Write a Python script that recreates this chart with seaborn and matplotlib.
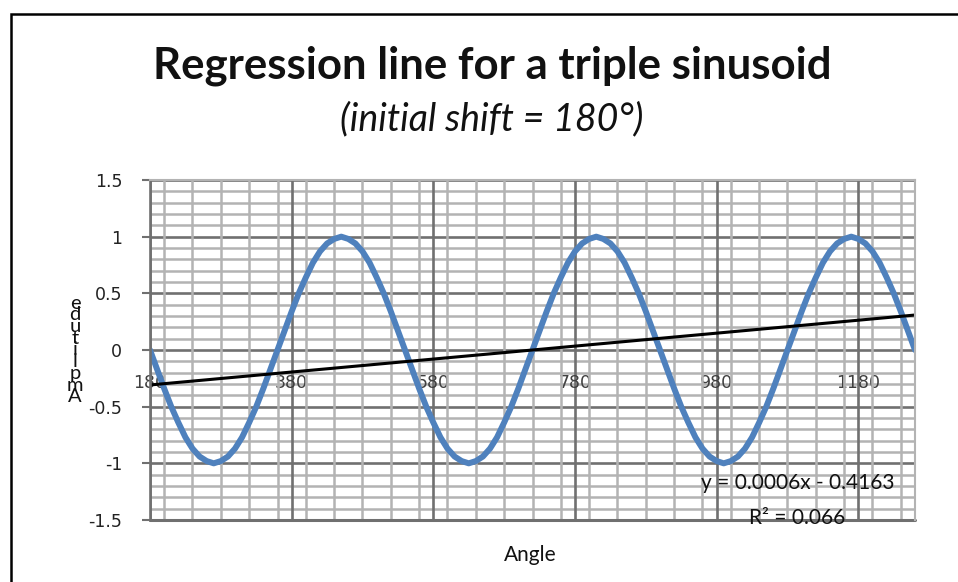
import numpy as np
import pandas as pd
import matplotlib
matplotlib.use('Agg')
import matplotlib.pyplot as plt
import seaborn as sns
from matplotlib.ticker import MultipleLocator
from matplotlib.patches import Rectangle

# angle in degrees, sampled every 10 deg
angles = list(range(180, 1261, 10))
# amplitude
amplitude = [
    0, -0.17, -0.34, -0.5, -0.64, -0.77, -0.87, -0.94, -0.98,
    -1, -0.98, -0.94, -0.87, -0.77, -0.64, -0.5, -0.34, -0.17,
    0, 0.17, 0.34, 0.5, 0.64, 0.77, 0.87, 0.94, 0.98,
    1, 0.98, 0.94, 0.87, 0.77, 0.64, 0.5, 0.34, 0.17,
    0, -0.17, -0.34, -0.5, -0.64, -0.77, -0.87, -0.94, -0.98,
    -1, -0.98, -0.94, -0.87, -0.77, -0.64, -0.5, -0.34, -0.17,
    0, 0.17, 0.34, 0.5, 0.64, 0.77, 0.87, 0.94, 0.98,
    1, 0.98, 0.94, 0.87, 0.77, 0.64, 0.5, 0.34, 0.17,
    0, -0.17, -0.34, -0.5, -0.64, -0.77, -0.87, -0.94, -0.98,
    -1, -0.98, -0.94, -0.87, -0.77, -0.64, -0.5, -0.34, -0.17,
    0, 0.17, 0.34, 0.5, 0.64, 0.77, 0.87, 0.94, 0.98,
    1, 0.98, 0.94, 0.87, 0.77, 0.64, 0.5, 0.34, 0.17,
    0,
]
x_ticks = [180, 380, 580, 780, 980, 1180]
y_ticks = [-1.5, -1, -0.5, 0, 0.5, 1, 1.5]
y_tick_labels = ['-1.5', '-1', '-0.5', '0', '0.5', '1', '1.5']
equation = 'y = 0.0006x - 0.4163'
r_squared = 'R² = 0.066'

df = pd.DataFrame({'Angle': angles, 'Amplitude': amplitude})

sns.set_theme(style='white')
plt.rcParams['font.family'] = ['Lato', 'DejaVu Sans']

fig = plt.figure(figsize=(9.58, 5.82), dpi=100)
ax = fig.add_axes([150 / 958, 62 / 582, 765 / 958, 340 / 582])

# grid like the excel chart
ax.set_xlim(180, 1260)
ax.set_ylim(-1.5, 1.5)
ax.xaxis.set_minor_locator(MultipleLocator(40))
ax.yaxis.set_minor_locator(MultipleLocator(0.1))
ax.set_xticks(x_ticks)
ax.set_yticks(y_ticks)
ax.set_yticklabels(y_tick_labels)
ax.grid(which='minor', color='#b3b3b3', lw=1.8)
ax.grid(which='major', color='#707070', lw=1.9)
ax.set_axisbelow(True)
ax.xaxis.set_zorder(0.6)

sns.lineplot(data=df, x='Angle', y='Amplitude', color='#4f81bd', lw=4.3, ax=ax)
sns.regplot(data=df, x='Angle', y='Amplitude', scatter=False, ci=None,
            color='black', line_kws={'lw': 2.2}, ax=ax)

ax.set_xlabel('')
ax.set_ylabel('')

for s in ['top', 'right']:
    ax.spines[s].set_color('#b3b3b3')
    ax.spines[s].set_linewidth(1.5)
ax.spines['left'].set_color('#707070')
ax.spines['left'].set_linewidth(1.9)
ax.spines['bottom'].set_position(('data', 0))
ax.spines['bottom'].set_color('none')
ax.axhline(-1.5, color='#707070', lw=2.2, clip_on=False)

ax.tick_params(axis='x', which='both', length=0, pad=17, labelsize=12.5,
               labelcolor='#404040')
ax.tick_params(axis='y', which='major', length=6, width=1.5, color='#707070',
               pad=14, labelsize=12.5, labelcolor='#222222', left=True)
ax.tick_params(axis='y', which='minor', length=0)
for lab in ax.get_xticklabels() + ax.get_yticklabels():
    lab.set_fontfamily('DejaVu Sans')

# trendline label
ax.text(1094, -1.177, equation, ha='center', va='center', fontsize=15,
        color='#111111')
ax.text(1094, -1.48, r_squared, ha='center', va='center', fontsize=15,
        color='#111111')

# titles
fig.text(492 / 958, 1 - 66 / 582, 'Regression line for a triple sinusoid',
         ha='center', va='center', fontsize=31.5, fontweight='bold', color='#111111')
fig.text(492 / 958, 1 - 119 / 582, '(initial shift = 180°)', ha='center',
         va='center', fontsize=27, fontstyle='italic', color='#111111')
fig.text(530 / 958, 1 - 555 / 582, 'Angle', ha='center', va='center',
         fontsize=15, color='#111111')
# stacked y label, letters on top of each other
fig.text(75 / 958, 1 - 350 / 582, '\n'.join(reversed('Amplitude')), ha='center',
         va='center', fontsize=14.5, linespacing=0.62, color='#111111')

# chart border
fig.patches.append(Rectangle((11 / 958, -0.1), 1.2, 1.1 - 14 / 582,
                             transform=fig.transFigure, fill=False,
                             edgecolor='black', lw=1.8))

fig.savefig('out.png', dpi=100)
